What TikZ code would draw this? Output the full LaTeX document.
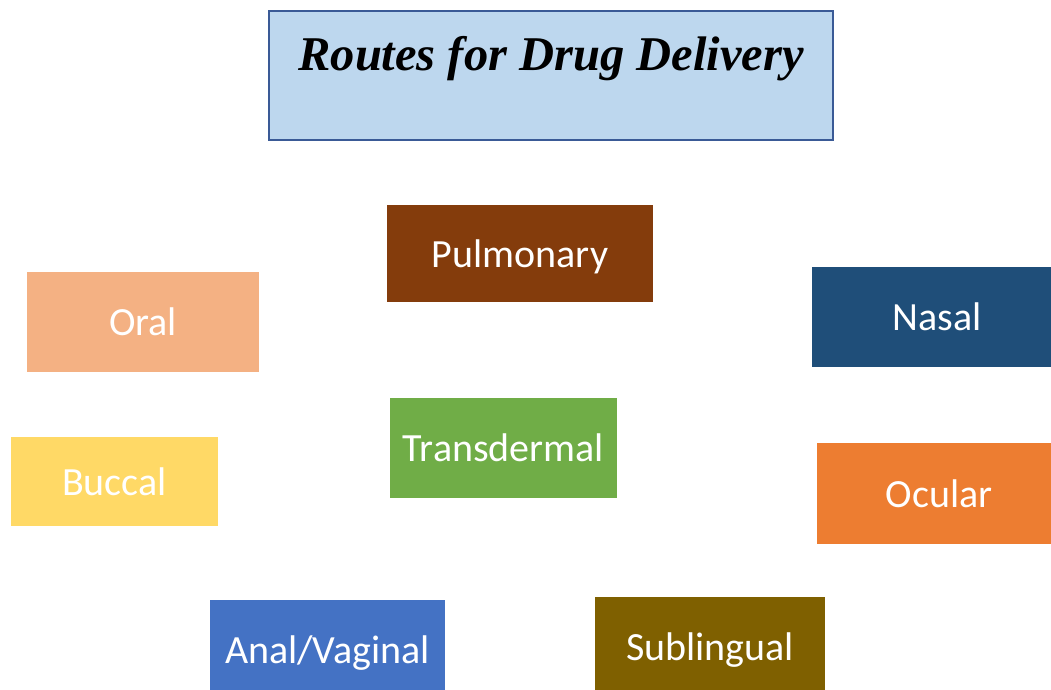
\documentclass[tikz,border=0pt]{standalone}
\usepackage{fontspec}
\setmainfont{Carlito}
\newfontfamily\titlefont{Liberation Serif}
\usepackage{tikz}
\usetikzlibrary{positioning}

\definecolor{titlefill}{HTML}{BDD7EE}
\definecolor{titleline}{HTML}{3A5A96}
\definecolor{pulmonaryfill}{HTML}{843C0C}
\definecolor{transdermalfill}{HTML}{70AD47}
\definecolor{oralfill}{HTML}{F4B183}
\definecolor{buccalfill}{HTML}{FFD966}
\definecolor{nasalfill}{HTML}{1F4E79}
\definecolor{ocularfill}{HTML}{ED7D31}
\definecolor{analfill}{HTML}{4472C4}
\definecolor{sublingualfill}{HTML}{7F6000}

\tikzset{
  route/.style={rectangle, inner sep=0pt, text=white,
    font=\fontsize{40}{48}\selectfont, text height=36pt, text depth=9pt},
  titlebox/.style={rectangle, inner sep=0pt, fill=titlefill, draw=titleline, line width=2pt},
}

\begin{document}
\begin{tikzpicture}[x=1pt, y=-1pt]

    \clip (0,0) rectangle (1051,689);
    \fill[white] (0,0) rectangle (1051,689);

    % Title
    \node[titlebox, minimum width=564pt, minimum height=129pt] (title) at (551,75.5) {};
    \node[anchor=base, inner sep=0pt, font=\titlefont\bfseries\itshape\fontsize{48.5}{58}\selectfont] (titletext) at (551,70) {Routes for Drug Delivery};

    % Routes
    \node[route, fill=pulmonaryfill, minimum width=266pt, minimum height=97pt] (pulmonary) at (520,253.5) {Pulmonary};
    \node[route, fill=transdermalfill, minimum width=227pt, minimum height=100pt] (transdermal) at (503.5,448) {Transdermal};
    \node[route, fill=oralfill, minimum width=232pt, minimum height=100pt] (oral) at (143,322) {Oral};
    \node[route, fill=buccalfill, minimum width=207pt, minimum height=89pt] (buccal) at (114.5,481.5) {Buccal};
    \node[route, fill=nasalfill, minimum width=250pt, minimum height=100pt] (nasal) at (937,317) {Nasal};
    \node[route, fill=ocularfill, minimum width=244pt, minimum height=101pt] (ocular) at (939,493.5) {Ocular};
    \node[route, fill=analfill, minimum width=235pt, minimum height=100pt] (anal) at (327.5,650) {Anal/Vaginal};
    \node[route, fill=sublingualfill, minimum width=230pt, minimum height=100pt] (sublingual) at (710,647) {Sublingual};

\end{tikzpicture}
\end{document}
